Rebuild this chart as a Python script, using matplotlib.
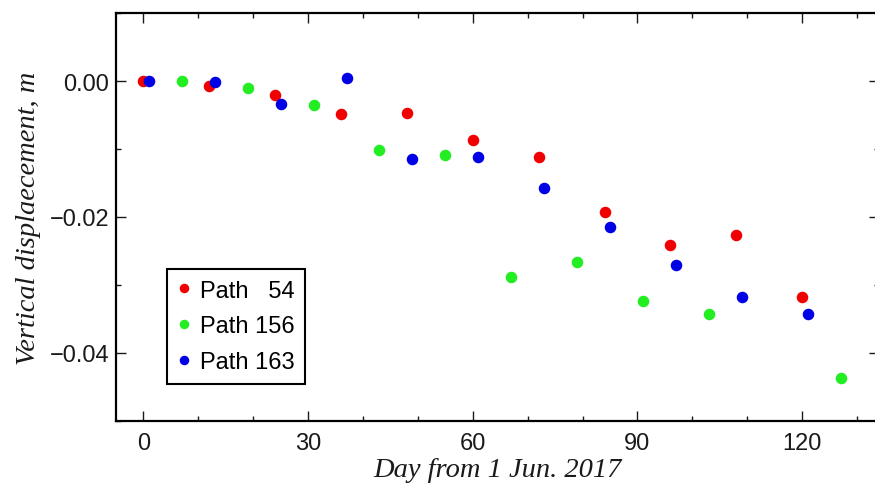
import matplotlib.pyplot as plt
from matplotlib.ticker import MultipleLocator

plt.rcParams['font.family'] = ['Liberation Sans', 'DejaVu Sans']

# Path 54
days_54 = [0, 12, 24, 36, 48, 60, 72, 84, 96, 108, 120]
disp_54 = [0.0, -0.0008, -0.0021, -0.0048, -0.0047, -0.0087, -0.0112,
           -0.0193, -0.0241, -0.0227, -0.0318]
# Path 156
days_156 = [7, 19, 31, 43, 55, 67, 79, 91, 103, 127]
disp_156 = [0.0, -0.0010, -0.0036, -0.0102, -0.0109, -0.0288, -0.0266,
            -0.0323, -0.0342, -0.0437]
# Path 163
days_163 = [1, 13, 25, 37, 49, 61, 73, 85, 97, 109, 121]
disp_163 = [0.0, -0.0002, -0.0034, 0.0005, -0.0114, -0.0112, -0.0157,
            -0.0215, -0.0271, -0.0317, -0.0342]

labels = ["Path   54", "Path 156", "Path 163"]
colors = ["#f00000", "#22ee22", "#0000e6"]

fig = plt.figure(figsize=(8.75, 4.89), dpi=100)
# right spine sits just outside the picture, as in the reference
ax = fig.add_axes([116 / 875, 1 - 422 / 489, 763 / 875, 408 / 489])

for d, v, lab, c in zip([days_54, days_156, days_163],
                        [disp_54, disp_156, disp_163], labels, colors):
    ax.plot(d, v, "o", color=c, markersize=7.3, label=lab, linestyle="none")

ax.set_xlim(-5, 134)
ax.set_ylim(-0.05, 0.01)
ax.xaxis.set_major_locator(MultipleLocator(30))
ax.xaxis.set_minor_locator(MultipleLocator(10))
ax.yaxis.set_major_locator(MultipleLocator(0.02))
ax.yaxis.set_minor_locator(MultipleLocator(0.01))
ax.yaxis.set_major_formatter(plt.FuncFormatter(
    lambda v, p: "0.00" if abs(v) < 1e-9 else "\u2212%.2f" % abs(v) if v < 0 else "%.2f" % v))
ax.tick_params(which="both", direction="in", top=True, right=True,
               labelsize=17, colors="#1a1a1a", width=1)
ax.tick_params(which="major", length=7)
ax.tick_params(which="minor", length=3.5)
ax.tick_params(axis="x", pad=8)
ax.tick_params(axis="y", pad=5)
for s in ax.spines.values():
    s.set_linewidth(1.6)

ax.set_xlabel("Day from 1 Jun. 2017", family="Liberation Serif",
              style="italic", fontsize=20.5, color="#1a1a1a", labelpad=2)
ax.set_ylabel("Vertical displaecement, m", family="Liberation Serif",
              style="italic", fontsize=20.5, color="#1a1a1a", labelpad=6)

leg = ax.legend(loc="upper left", bbox_to_anchor=(167 / 875, 1 - 270 / 489),
                bbox_transform=fig.transFigure, borderaxespad=0,
                fancybox=False, edgecolor="black", fontsize=17,
                handlelength=0.5, handletextpad=0.45, labelspacing=0.58,
                borderpad=0.45, markerscale=0.8, framealpha=1)
leg.get_frame().set_linewidth(1.5)

fig.savefig("out.png", dpi=100)
plt.close(fig)
